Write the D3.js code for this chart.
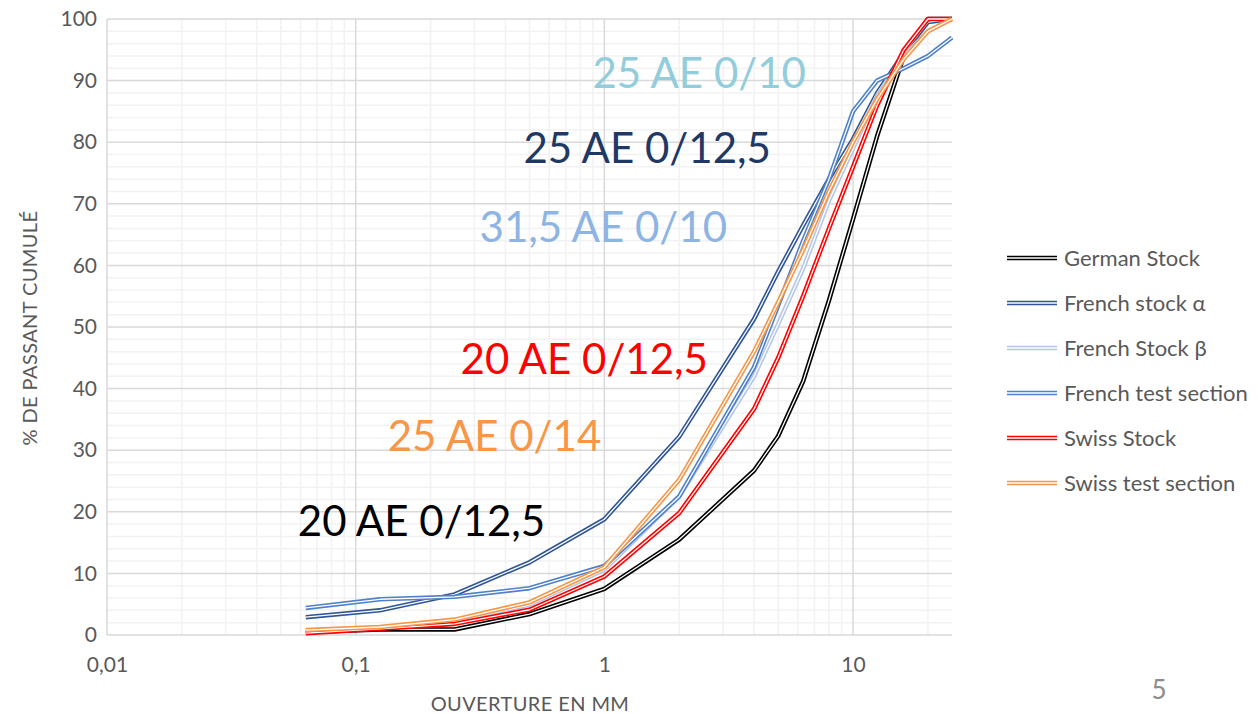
<!DOCTYPE html>
<html>
<head>
<meta charset="utf-8">
<script src="https://cdn.jsdelivr.net/npm/d3@7"></script>
<style>
	body { margin: 0; background: #fff; }
	text { font-family: Lato, "Open Sans", sans-serif; }
</style>
</head>
<body>
<svg class="chart" width="1258" height="714"></svg>
<script>
var sieves = [0.063, 0.125, 0.25, 0.5, 1, 2, 4, 5, 6.3, 8, 10, 12.5, 16, 20, 25];

var germanStock = [0.5, 0.9, 0.9, 3.4, 7.5, 15.5, 26.7, 32.3, 41.2, 54.3, 67.5, 81, 94, 100, 100];
var frenchAlpha = [2.9, 4, 6.6, 11.8, 18.8, 32.2, 51.3, 59, 66.5, 74, 80.5, 88, 94.5, 99.5, 100];
var frenchBeta = [0.7, 1.2, 2.2, 4.9, 10.6, 22.5, 42, 50.5, 59.5, 70.5, 79, 87.5, 94, 98, 100];
var frenchTest = [4.4, 5.8, 6.2, 7.6, 11.2, 22.5, 43.5, 53.5, 64, 74, 85, 90, 92, 94, 97];
var swissStock = [0.3, 1, 1.8, 4.1, 9.5, 19.8, 36.7, 45, 55, 66, 76, 86, 95, 100, 100];
var swissTest = [0.8, 1.3, 2.5, 5.3, 11, 25.2, 46, 54, 62.5, 72, 80, 87, 93.5, 98, 100];

var seriesNames = ["German Stock", "French stock α", "French Stock β", "French test section", "Swiss Stock", "Swiss test section"];
var seriesColors = ["#000000", "#2F5597", "#B4C7E7", "#4F81C9", "#FF0000", "#F79646"];
var seriesValues = [germanStock, frenchAlpha, frenchBeta, frenchTest, swissStock, swissTest];

var xTicks = [0.01, 0.1, 1, 10];
var xTickLabels = ["0,01", "0,1", "1", "10"];
var yTicks = [0, 10, 20, 30, 40, 50, 60, 70, 80, 90, 100];

var notes = [
	{ text: "25 AE 0/10", color: "#92CDDC", x: 0.895, y: 88.8 },
	{ text: "25 AE 0/12,5", color: "#1F3864", x: 0.473, y: 76.6 },
	{ text: "31,5 AE 0/10", color: "#8EB4E3", x: 0.315, y: 63.8 },
	{ text: "20 AE 0/12,5", color: "#FF0000", x: 0.264, y: 42.4 },
	{ text: "25 AE 0/14", color: "#F79646", x: 0.1345, y: 29.9 },
	{ text: "20 AE 0/12,5", color: "#000000", x: 0.0585, y: 16.1 }
];

var plotLeft = 107, plotRight = 952, plotTop = 19, plotBottom = 635;

var x = d3.scaleLog()
	.domain([0.01, 25])
	.range([plotLeft, plotRight]);

var y = d3.scaleLinear()
	.domain([0, 100])
	.range([plotBottom, plotTop]);

var chart = d3.select(".chart");

// minor grid
var minorX = [];
[0.01, 0.1, 1, 10].forEach(function(d) {
	for (var k = 2; k <= 9; k++) if (d * k <= 25) minorX.push(d * k);
});
var minorY = d3.range(0, 101, 2).filter(function(d) { return d % 10 != 0; });

chart.append("g").selectAll("line")
	.data(minorY)
  .enter().append("line")
	.attr("x1", plotLeft).attr("x2", plotRight)
	.attr("y1", function(d) { return y(d); })
	.attr("y2", function(d) { return y(d); })
	.attr("stroke", "#F2F2F2")
	.attr("stroke-width", 1.5);

chart.append("g").selectAll("line")
	.data(minorX)
  .enter().append("line")
	.attr("y1", plotTop).attr("y2", plotBottom)
	.attr("x1", function(d) { return x(d); })
	.attr("x2", function(d) { return x(d); })
	.attr("stroke", "#F2F2F2")
	.attr("stroke-width", 1.5);

// major grid
chart.append("g").selectAll("line")
	.data(yTicks)
  .enter().append("line")
	.attr("x1", plotLeft).attr("x2", plotRight)
	.attr("y1", function(d) { return y(d); })
	.attr("y2", function(d) { return y(d); })
	.attr("stroke", "#D9D9D9")
	.attr("stroke-width", 1.5);

chart.append("g").selectAll("line")
	.data(xTicks)
  .enter().append("line")
	.attr("y1", plotTop).attr("y2", plotBottom)
	.attr("x1", function(d) { return x(d); })
	.attr("x2", function(d) { return x(d); })
	.attr("stroke", "#D9D9D9")
	.attr("stroke-width", 1.5);

// axes
var yAxis = d3.axisLeft(y)
	.tickValues(yTicks)
	.tickSize(0)
	.tickPadding(10);

chart.append("g")
	.attr("transform", "translate(" + plotLeft + ",0)")
	.call(yAxis)
	.call(function(g) { g.select(".domain").remove(); })
	.selectAll("text")
	.attr("font-size", 21)
	.attr("fill", "#595959");

var xAxis = d3.axisBottom(x)
	.tickValues(xTicks)
	.tickFormat(function(d, i) { return xTickLabels[i]; })
	.tickSize(0)
	.tickPadding(22);

chart.append("g")
	.attr("transform", "translate(0," + plotBottom + ")")
	.call(xAxis)
	.call(function(g) { g.select(".domain").remove(); })
	.selectAll("text")
	.attr("font-size", 21)
	.attr("fill", "#595959");

chart.append("text")
	.attr("transform", "translate(37," + ((plotTop + plotBottom) / 2 + 1) + ") rotate(-90)")
	.attr("text-anchor", "middle")
	.attr("font-size", 20)
	.attr("letter-spacing", 0.4)
	.attr("fill", "#595959")
	.text("% DE PASSANT CUMULÉ");

chart.append("text")
	.attr("x", 530)
	.attr("y", 711)
	.attr("text-anchor", "middle")
	.attr("font-size", 20)
	.attr("letter-spacing", 0.4)
	.attr("fill", "#595959")
	.text("OUVERTURE EN MM");

// curves, drawn as double lines
var line = d3.line()
	.x(function(d, i) { return x(sieves[i]); })
	.y(function(d) { return y(d); });

var curve = chart.append("g").selectAll("g")
	.data(seriesValues)
  .enter().append("g");

curve.append("path")
	.attr("d", line)
	.attr("fill", "none")
	.attr("stroke", function(d, i) { return seriesColors[i]; })
	.attr("stroke-width", 4.5)
	.attr("stroke-linejoin", "round");

curve.append("path")
	.attr("d", line)
	.attr("fill", "none")
	.attr("stroke", "#fff")
	.attr("stroke-width", 1.3)
	.attr("stroke-linejoin", "round");

// annotations
chart.append("g").selectAll("text")
	.data(notes)
  .enter().append("text")
	.attr("x", function(d) { return x(d.x); })
	.attr("y", function(d) { return y(d.y); })
	.attr("font-size", 42)
	.attr("fill", function(d) { return d.color; })
	.text(function(d) { return d.text; });

// legend
var legend = chart.append("g").selectAll("g")
	.data(seriesNames)
  .enter().append("g")
	.attr("transform", function(d, i) { return "translate(1007," + (258 + i * 45) + ")"; });

legend.append("line")
	.attr("x1", 0).attr("x2", 50)
	.attr("stroke", function(d, i) { return seriesColors[i]; })
	.attr("stroke-width", 4.5);

legend.append("line")
	.attr("x1", 0).attr("x2", 50)
	.attr("stroke", "#fff")
	.attr("stroke-width", 1.3);

legend.append("text")
	.attr("x", 57)
	.attr("dy", ".35em")
	.attr("font-size", 22)
	.attr("fill", "#595959")
	.text(function(d) { return d; });

chart.append("text")
	.attr("x", 1159)
	.attr("y", 699)
	.attr("text-anchor", "middle")
	.attr("font-size", 26)
	.attr("fill", "#8C8C8C")
	.text("5");
</script>
</body>
</html>
